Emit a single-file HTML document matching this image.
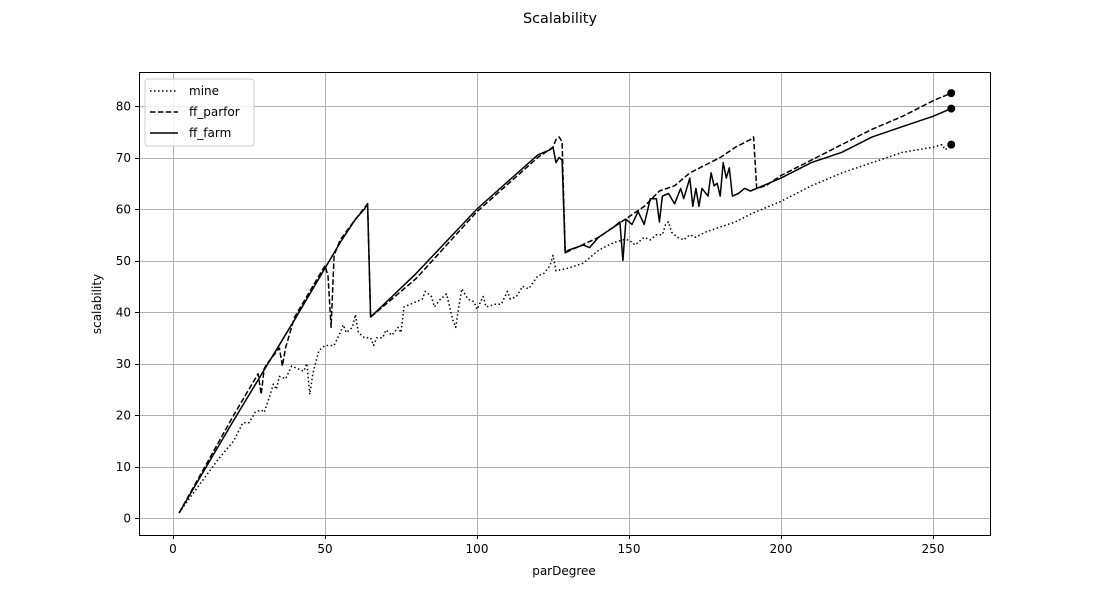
<!DOCTYPE html>
<html><head><meta charset="utf-8"><style>
body{margin:0;background:#fff;}
svg text{font-family:"DejaVu Sans","Liberation Sans",sans-serif;font-size:12px;fill:#000;}
</style></head><body>
<svg id="chart" width="1100" height="600" viewBox="0 0 1100 600" xmlns="http://www.w3.org/2000/svg">
<rect width="1100" height="600" fill="#fff"/>
<text x="560" y="23" text-anchor="middle" style="font-size:14.4px">Scalability</text>
<g id="grid"></g><g id="series"></g>
<rect x="139.5" y="72.5" width="851" height="463" fill="none" stroke="#000" stroke-width="1" shape-rendering="crispEdges"/>
<g id="ticks"></g>
<text x="564" y="575" text-anchor="middle">parDegree</text>
<text transform="translate(101,304) rotate(-90)" text-anchor="middle">scalability</text>
<g>
<rect x="145" y="79" width="109" height="67" rx="3" fill="#fff" fill-opacity="0.8" stroke="#ccc"/>
<line x1="150" y1="91" x2="178" y2="91" stroke="#000" stroke-width="1.5" stroke-dasharray="1.5,2.5"/>
<text x="189" y="95">mine</text>
<line x1="150" y1="112" x2="178" y2="112" stroke="#000" stroke-width="1.5" stroke-dasharray="5.5,2.4"/>
<text x="189" y="116">ff_parfor</text>
<line x1="150" y1="133" x2="178" y2="133" stroke="#000" stroke-width="1.5"/>
<text x="189" y="137">ff_farm</text>
</g>
</svg>
<script>
const xTicks=[0,50,100,150,200,250];
const yTicks=[0,10,20,30,40,50,60,70,80];
const farmX=[2,20,40,50,55,60,63,64,65,80,100,120,124,125,126,127,128,129,130,135,137,140,145,147,148,149,151,153,155,157,159,160,161,163,165,167,168,170,171,172,173,174,176,177,178,179,180,181,182,183,184,186,188,190,192,200,210,220,230,240,250,256];
const farmY=[1,19,38.5,48.5,53.5,58,60,61,39,47.5,60,70.5,71.5,72,69,70,69.5,51.5,52,53,52.5,54.5,56.5,57.5,50,58,57,59.5,57,62,62,57.5,62.5,63,61,64,62,66,60.5,64,60.5,64,62.5,67,64.5,65,62.5,69,66,68,62.5,63,64,63.5,64,66,69,71,74,76,78,79.5];
const parX=[2,20,28,29,30,31,35,36,37,40,50,51,52,53,55,60,64,65,80,100,120,125,126,127,128,129,140,150,155,160,165,170,175,180,185,190,191,192,195,200,210,220,230,240,250,256];
const parY=[1,20,28,24,29,30,33,29.5,33,39,49,47,37,51,54,58,61,39,46.5,59.5,70,72,73.5,74,73,51.5,54.5,58.5,60.5,63.5,64.5,67,68.5,70,72,73.5,74,64,64.5,66.5,69.5,72.5,75.5,78,81,82.5];
const mineX=[2,5,10,15,20,23,25,27,29,30,32,33,34,35,37,39,41,43,44,45,46,48,50,53,55,56,57,59,60,61,63,65,66,67,69,70,72,74,75,76,80,82,83,85,86,88,90,91,92,93,94,95,97,99,100,102,103,106,108,110,111,113,115,117,120,122,124,125,126,130,135,140,145,148,150,152,155,157,159,161,162,163,164,166,168,170,172,175,180,185,190,200,210,220,230,240,250,253,254,256];
const mineY=[1,3.5,7.5,11.5,15,18.5,18.5,20.5,21,20.5,24,26,25,27.5,27,29.5,29,28.5,30,24,28,32.5,33.5,33.5,36,37.5,36,37,39.5,36,35,35,33.5,35,35,36.5,35.5,37,36,41,42,42.5,44,43,41,42.5,43.5,41,38.5,37,41,44.5,42.5,42,40.5,43,41,41.5,41.5,44,42.5,43,45,44.5,47,47.5,49,51,48,48.5,49.5,52,53.5,54,54,53,54.5,54,55,55,57,57.5,55.5,54.5,54,55,54.5,55.5,56.5,57.5,59,61.5,64.5,67,69,71,72,72.5,71.5,72.5];
const NS="http://www.w3.org/2000/svg";
const sx=v=>173+v*3.04, sy=v=>518-v*5.15;
const grid=document.getElementById('grid'), ticks=document.getElementById('ticks'), ser=document.getElementById('series');
function mk(tag,attrs,parent){const e=document.createElementNS(NS,tag);for(const k in attrs)e.setAttribute(k,attrs[k]);parent.appendChild(e);return e;}
xTicks.forEach(t=>{
  const px=Math.round(sx(t))+0.5;
  const g=mk('line',{x1:px,x2:px,y1:72,y2:535,stroke:'#b0b0b0','stroke-width':1,'shape-rendering':'crispEdges'},grid);
  
  
  mk('line',{x1:px,x2:px,y1:535,y2:539,stroke:'#000','stroke-width':1,'shape-rendering':'crispEdges'},ticks);
  const tx=mk('text',{x:sx(t),y:553,'text-anchor':'middle'},ticks);tx.textContent=t;
  
  
});
yTicks.forEach(t=>{
  const py=Math.round(sy(t))+0.5;
  const g=mk('line',{x1:139,x2:990,y1:py,y2:py,stroke:'#b0b0b0','stroke-width':1,'shape-rendering':'crispEdges'},grid);
  
  
  mk('line',{x1:135,x2:139,y1:py,y2:py,stroke:'#000','stroke-width':1,'shape-rendering':'crispEdges'},ticks);
  const tx=mk('text',{x:131,y:sy(t)+4.5,'text-anchor':'end'},ticks);tx.textContent=t;
  
  
});
function line(xs,ys,dash,name){
  const d=xs.map((x,i)=>(i?'L':'M')+sx(x).toFixed(1)+','+sy(ys[i]).toFixed(1)).join('');
  const p=mk('path',{d:d,fill:'none',stroke:'#000','stroke-width':1.5,'stroke-linejoin':'round'},ser);
  if(dash)p.setAttribute('stroke-dasharray',dash);
  
  
  const n=xs.length-1;
  const c=mk('circle',{cx:sx(xs[n]),cy:sy(ys[n]),r:4,fill:'#000'},ser);
  
  
}
line(mineX,mineY,'1.5,2.5','mine');
line(parX,parY,'5.5,2.4','ff-parfor');
line(farmX,farmY,null,'ff-farm');
</script>
</body></html>
